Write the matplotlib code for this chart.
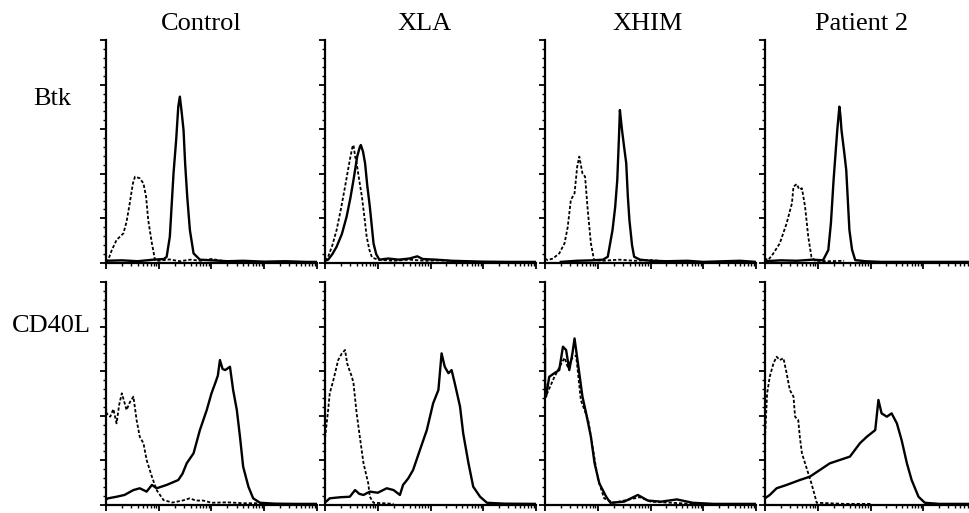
import numpy as np
import matplotlib
matplotlib.use("Agg")
import matplotlib.pyplot as plt
from matplotlib.ticker import FixedLocator

# ---------------- data (x = log10 fluorescence, y = % of max count) ----------------
columns = ["Control", "XLA", "XHIM", "Patient 2"]
rows = ["Btk", "CD40L"]

# Btk row
ctrl_btk_dash_x = [0.0, 0.04, 0.11, 0.20, 0.33, 0.39, 0.45, 0.51, 0.55, 0.64, 0.71, 0.76, 0.80, 0.87, 0.93, 1.0, 1.2, 1.4, 1.6, 1.8, 2.0, 2.2, 2.5]
ctrl_btk_dash_y = [0.5, 1.3, 5.8, 10.3, 13.3, 18.5, 26.8, 35.7, 38.7, 38.0, 35.7, 29.7, 19.3, 8.8, 1.3, 1.0, 1.6, 0.8, 1.5, 1.0, 1.8, 1.0, 0.8]
ctrl_btk_sol_x = [0.0, 0.3, 0.6, 0.9, 1.1, 1.15, 1.21, 1.28, 1.33, 1.37, 1.40, 1.43, 1.47, 1.50, 1.54, 1.59, 1.66, 1.78, 2.0, 2.3, 2.6, 3.0, 3.4, 3.8, 4.0]
ctrl_btk_sol_y = [1.0, 1.2, 0.8, 1.5, 1.8, 2.8, 11.8, 40.2, 55.2, 70.1, 74.6, 68.6, 59.6, 44.7, 29.7, 14.8, 4.3, 1.5, 1.2, 0.8, 1.0, 0.6, 0.8, 0.5, 0.5]

xla_btk_dash_x = [0.0, 0.06, 0.14, 0.22, 0.30, 0.38, 0.47, 0.52, 0.54, 0.57, 0.60, 0.65, 0.70, 0.75, 0.79, 0.84, 0.89, 1.0, 1.3, 1.6, 1.9, 2.2, 2.5]
xla_btk_dash_y = [1.0, 2.8, 8.0, 14.8, 24.0, 34.2, 46.2, 52.0, 52.9, 48.0, 44.7, 37.0, 29.7, 20.0, 11.8, 6.0, 2.5, 1.5, 1.0, 1.5, 1.0, 1.2, 0.8]
xla_btk_sol_x = [0.0, 0.06, 0.14, 0.22, 0.32, 0.41, 0.48, 0.54, 0.61, 0.66, 0.68, 0.72, 0.76, 0.80, 0.85, 0.92, 0.97, 1.03, 1.2, 1.4, 1.6, 1.75, 1.85, 2.1, 2.4, 2.7, 3.0, 3.5, 4.0]
xla_btk_sol_y = [1.0, 1.5, 4.0, 7.3, 13.0, 20.8, 29.0, 37.2, 47.7, 52.0, 52.9, 50.0, 44.7, 35.0, 25.2, 8.8, 4.0, 1.5, 2.0, 1.5, 2.0, 3.0, 1.8, 1.5, 1.0, 0.8, 0.6, 0.5, 0.5]

xhim_btk_dash_x = [0.0, 0.05, 0.15, 0.27, 0.37, 0.43, 0.49, 0.56, 0.61, 0.65, 0.68, 0.71, 0.76, 0.81, 0.87, 0.93, 1.1, 1.4, 1.7, 2.0, 2.3]
xhim_btk_dash_y = [2.0, 1.3, 2.0, 4.3, 8.8, 16.0, 28.3, 31.2, 43.2, 47.7, 44.0, 40.2, 38.7, 23.8, 8.8, 1.3, 1.0, 1.5, 1.0, 1.3, 0.8]
xhim_btk_sol_x = [0.3, 0.6, 0.9, 1.1, 1.19, 1.28, 1.33, 1.37, 1.40, 1.42, 1.44, 1.46, 1.50, 1.54, 1.57, 1.60, 1.65, 1.69, 1.8, 2.0, 2.3, 2.7, 3.0, 3.4, 3.7, 4.0]
xhim_btk_sol_y = [0.5, 1.0, 1.2, 1.5, 2.8, 14.8, 25.0, 37.2, 55.2, 68.6, 64.0, 59.6, 52.0, 44.7, 30.0, 19.3, 8.0, 2.8, 1.5, 1.0, 0.8, 1.0, 0.5, 0.8, 1.0, 0.5]

pt2_btk_dash_x = [0.0, 0.0, 0.06, 0.15, 0.28, 0.41, 0.51, 0.54, 0.60, 0.65, 0.70, 0.76, 0.82, 0.88, 0.95, 1.2, 1.5]
pt2_btk_dash_y = [61.0, 2.0, 1.3, 4.0, 8.8, 17.8, 26.7, 34.2, 35.4, 33.0, 33.5, 25.2, 11.8, 2.8, 1.0, 0.8, 1.0]
pt2_btk_sol_x = [0.0, 0.3, 0.6, 0.9, 1.1, 1.20, 1.25, 1.30, 1.37, 1.41, 1.43, 1.45, 1.50, 1.54, 1.60, 1.65, 1.71, 1.9, 2.2, 2.6, 3.0, 4.0]
pt2_btk_sol_y = [0.8, 1.2, 1.0, 1.5, 1.2, 5.8, 18.0, 37.2, 59.6, 70.1, 66.0, 59.6, 50.0, 41.7, 14.8, 6.0, 1.3, 0.8, 0.5, 0.5, 0.5, 0.5]

# CD40L row
ctrl_cd_dash_x = [0.0, 0.01, 0.08, 0.14, 0.20, 0.25, 0.30, 0.35, 0.39, 0.45, 0.52, 0.58, 0.64, 0.71, 0.77, 0.87, 0.96, 1.09, 1.26, 1.45, 1.59, 1.70, 1.84, 2.0, 2.3, 2.6, 3.0]
ctrl_cd_dash_y = [44.0, 41.1, 39.6, 43.0, 36.6, 45.0, 50.1, 46.0, 42.6, 46.0, 48.6, 38.1, 30.6, 27.7, 20.2, 12.7, 6.7, 2.2, 1.1, 2.0, 3.0, 2.0, 2.0, 1.0, 1.2, 0.8, 0.8]
ctrl_cd_sol_x = [0.0, 0.04, 0.2, 0.35, 0.52, 0.64, 0.77, 0.87, 0.96, 1.15, 1.37, 1.45, 1.53, 1.66, 1.78, 1.91, 2.0, 2.07, 2.12, 2.16, 2.21, 2.26, 2.35, 2.41, 2.48, 2.54, 2.60, 2.70, 2.79, 2.92, 3.2, 3.6, 4.0]
ctrl_cd_sol_y = [2.5, 3.0, 3.7, 4.5, 6.7, 7.5, 6.0, 9.0, 7.5, 9.0, 11.2, 14.0, 18.7, 23.2, 33.6, 42.6, 50.1, 54.6, 58.0, 65.0, 61.0, 60.5, 62.0, 51.6, 42.6, 30.6, 17.2, 8.2, 3.0, 1.0, 0.6, 0.5, 0.5]

xla_cd_dash_x = [0.0, 0.06, 0.09, 0.16, 0.19, 0.25, 0.32, 0.38, 0.42, 0.47, 0.51, 0.54, 0.60, 0.66, 0.73, 0.82, 0.85, 0.92, 1.1, 1.3]
xla_cd_dash_y = [30.0, 42.6, 50.1, 56.1, 59.1, 65.0, 68.0, 69.5, 63.5, 60.0, 57.5, 54.6, 41.1, 30.6, 18.7, 9.7, 3.7, 1.0, 0.8, 0.5]
xla_cd_sol_x = [0.02, 0.09, 0.3, 0.47, 0.57, 0.65, 0.73, 0.85, 1.0, 1.17, 1.30, 1.42, 1.48, 1.58, 1.67, 1.80, 1.93, 2.05, 2.15, 2.21, 2.27, 2.34, 2.40, 2.46, 2.56, 2.62, 2.72, 2.81, 2.94, 3.07, 3.4, 4.0]
xla_cd_sol_y = [1.5, 3.0, 3.5, 3.7, 6.7, 5.0, 4.5, 6.0, 5.5, 7.5, 6.7, 4.5, 9.0, 12.0, 15.7, 24.7, 33.6, 45.6, 51.6, 68.0, 62.0, 59.1, 60.5, 54.6, 44.1, 32.1, 18.7, 8.2, 3.7, 1.0, 0.6, 0.5]

xhim_cd_dash_x = [0.0, 0.04, 0.17, 0.30, 0.37, 0.43, 0.52, 0.59, 0.68, 0.82, 0.91, 1.0, 1.12, 1.3, 1.6, 1.8, 2.0, 2.4, 2.8]
xhim_cd_dash_y = [55.0, 50.0, 57.0, 63.0, 66.0, 62.0, 66.0, 67.0, 47.0, 38.0, 25.0, 12.0, 3.0, 1.0, 2.5, 3.5, 1.5, 1.0, 0.5]
xhim_cd_sol_x = [0.0, 0.0, 0.02, 0.08, 0.17, 0.27, 0.34, 0.40, 0.46, 0.52, 0.56, 0.59, 0.65, 0.71, 0.78, 0.87, 0.94, 1.03, 1.16, 1.24, 1.5, 1.76, 1.95, 2.2, 2.5, 2.8, 3.2, 4.0]
xhim_cd_sol_y = [70.0, 48.6, 48.6, 57.5, 59.0, 60.5, 71.0, 69.5, 60.5, 68.0, 74.7, 69.5, 59.1, 48.6, 41.1, 30.6, 18.7, 9.7, 3.7, 1.0, 1.5, 4.5, 2.0, 1.5, 2.5, 1.0, 0.5, 0.5]

pt2_cd_dash_x = [0.0, 0.0, 0.04, 0.09, 0.16, 0.22, 0.28, 0.35, 0.41, 0.47, 0.54, 0.57, 0.63, 0.66, 0.70, 0.76, 0.82, 0.88, 0.95, 0.98, 1.2, 1.5, 2.0]
pt2_cd_dash_y = [63.5, 30.0, 50.0, 57.5, 63.5, 66.5, 65.0, 65.8, 59.1, 51.6, 48.6, 39.6, 38.1, 30.6, 23.2, 18.7, 14.2, 9.7, 3.7, 1.0, 0.8, 0.5, 0.5]
pt2_cd_sol_x = [0.0, 0.09, 0.22, 0.41, 0.66, 0.85, 1.04, 1.23, 1.42, 1.61, 1.80, 1.93, 2.09, 2.15, 2.21, 2.31, 2.40, 2.50, 2.59, 2.69, 2.78, 2.91, 3.03, 3.3, 4.0]
pt2_cd_sol_y = [3.0, 4.5, 7.5, 9.0, 11.2, 12.7, 15.7, 18.7, 20.2, 21.7, 27.7, 30.6, 33.6, 47.1, 41.1, 39.6, 41.1, 36.6, 29.1, 18.7, 11.2, 3.7, 1.0, 0.5, 0.5]

panels = [
    [(ctrl_btk_dash_x, ctrl_btk_dash_y, ctrl_btk_sol_x, ctrl_btk_sol_y),
     (xla_btk_dash_x, xla_btk_dash_y, xla_btk_sol_x, xla_btk_sol_y),
     (xhim_btk_dash_x, xhim_btk_dash_y, xhim_btk_sol_x, xhim_btk_sol_y),
     (pt2_btk_dash_x, pt2_btk_dash_y, pt2_btk_sol_x, pt2_btk_sol_y)],
    [(ctrl_cd_dash_x, ctrl_cd_dash_y, ctrl_cd_sol_x, ctrl_cd_sol_y),
     (xla_cd_dash_x, xla_cd_dash_y, xla_cd_sol_x, xla_cd_sol_y),
     (xhim_cd_dash_x, xhim_cd_dash_y, xhim_cd_sol_x, xhim_cd_sol_y),
     (pt2_cd_dash_x, pt2_cd_dash_y, pt2_cd_sol_x, pt2_cd_sol_y)],
]

# ---------------- layout ----------------
W, H = 969, 513
fig = plt.figure(figsize=(W / 100, H / 100), dpi=100)
fig.patch.set_facecolor("white")

lefts = [106, 325, 545, 765]
axw = 211
tops = [40, 282]
axh = 223
serif = ["Liberation Serif", "DejaVu Serif"]

major_x = [0, 1, 2, 3, 4]
minor_x = [d + np.log10(k) for d in range(4) for k in range(2, 10)]

for r in range(2):
    for c in range(4):
        l = lefts[c]
        t = tops[r]
        ax = fig.add_axes([l / W, 1 - (t + axh) / H, axw / W, axh / H])
        dx, dy, sx, sy = panels[r][c]
        ax.plot(dx, dy, color="black", lw=1.3, linestyle=(0, (1.8, 1.1)))
        ax.plot(sx, sy, color="black", lw=1.7)
        ax.set_xlim(0, 4)
        ax.set_ylim(0, 100)
        for s in ["top", "right"]:
            ax.spines[s].set_visible(False)
        for s in ["left", "bottom"]:
            ax.spines[s].set_linewidth(1.6)
        ax.xaxis.set_major_locator(FixedLocator(major_x))
        ax.xaxis.set_minor_locator(FixedLocator(minor_x))
        ax.yaxis.set_major_locator(FixedLocator([0, 20, 40, 60, 80, 100]))
        ax.yaxis.set_minor_locator(FixedLocator([v for v in range(0, 101, 4) if v % 20]))
        ax.tick_params(axis="both", which="major", direction="out", length=4.5, width=1.3,
                       labelbottom=False, labelleft=False)
        ax.tick_params(axis="both", which="minor", direction="out", length=2.5, width=1.0)
        ax.patch.set_alpha(0)

title_x = [201.5, 424, 648, 862]
for name, x in zip(columns, title_x):
    fig.text(x / W, 1 - 30 / H, name, ha="center", va="baseline",
             fontsize=19, family=serif)

row_label_pos = [(52, 105), (51, 332)]
for name, (x, y) in zip(rows, row_label_pos):
    fig.text(x / W, 1 - y / H, name, ha="center", va="baseline",
             fontsize=19, family=serif)

fig.savefig("out.png", dpi=100, facecolor="white")
